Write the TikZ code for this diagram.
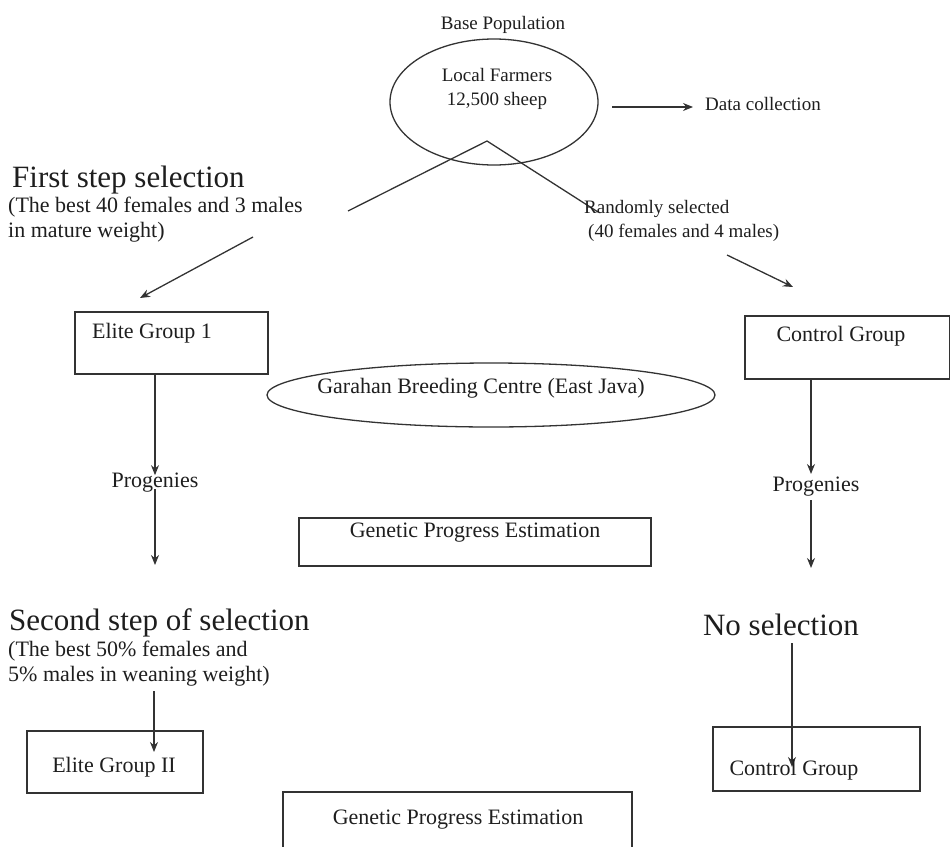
\documentclass[tikz,border=0pt]{standalone}
\usepackage{fontspec}
\setmainfont{Liberation Serif}
\usetikzlibrary{shapes.geometric,arrows.meta}
\definecolor{ink}{HTML}{333333}
\definecolor{txt}{HTML}{1E1E1E}
\tikzset{
  ln/.style={draw=ink, line width=1.3pt},
  arr/.style={ln, -{Stealth[length=10pt,width=8pt]}},
  boxn/.style={draw=ink, line width=1.3pt, rectangle, inner sep=0pt},
  elln/.style={draw=ink, line width=1.3pt, ellipse, inner sep=0pt},
  sm/.style={text=txt, inner sep=0pt, font=\fontsize{19}{24}\selectfont},
  md/.style={text=txt, inner sep=0pt, font=\fontsize{22}{25}\selectfont},
  lg/.style={text=txt, inner sep=0pt, font=\fontsize{31}{34}\selectfont},
}
\begin{document}
\begin{tikzpicture}[x=1pt,y=-1pt]
\useasboundingbox (0,0) rectangle (950,846);
% top
\node[sm] (basepop) at (503,25) {Base Population};
\node[elln, minimum width=208pt, minimum height=126pt] (farm) at (494,102) {};
\node[sm, align=center] (farmtxt) at (497,89) {Local Farmers\\12,500 sheep};
\coordinate (dcstart) at (612,107);
\coordinate (dcend) at (693,107);
\node[sm, anchor=west] (dc) at (705,104) {Data collection};
\draw[arr] (dcstart) -- (dcend);
\coordinate (apex) at (487,141);
\coordinate (lend) at (348,211);
\coordinate (rend) at (598,212);
\draw[ln] (lend) -- (apex) -- (rend);
% first step
\node[lg, anchor=west] (fs) at (12,180) {First step selection};
\node[md, anchor=north west, align=left] (fsd) at (8,197) {(The best 40 females and 3 males\\in mature weight)};
\coordinate (a1s) at (253,237);
\coordinate (a1e) at (140,298);
\draw[arr] (a1s) -- (a1e);
\node[sm, anchor=north west, align=left] (rs) at (584,200) {Randomly selected\\\hspace*{4pt}(40 females and 4 males)};
\coordinate (a2s) at (727,255);
\coordinate (a2e) at (793,287);
\draw[arr] (a2s) -- (a2e);
% group boxes
\node[boxn, minimum width=193pt, minimum height=62pt] (eg1) at (171.5,343) {};
\node[md] (eg1t) at (152,333) {Elite Group 1};
\node[boxn, minimum width=205pt, minimum height=63pt] (cg1) at (847.5,347.5) {};
\node[md] (cg1t) at (841,336) {Control Group};
\node[elln, minimum width=448pt, minimum height=64pt] (gbc) at (491,395) {};
\node[md] (gbct) at (481,388) {Garahan Breeding Centre (East Java)};
% progenies left
\node[md] (progL) at (155,483) {Progenies};
\draw[arr] (eg1.south -| progL) -- ([yshift=-2pt]progL.north);
\coordinate (l2e) at (155,565);
\draw[arr] ([yshift=4pt]progL.south) -- (l2e);
% progenies right
\node[md] (progR) at (816,487) {Progenies};
\coordinate (r1e) at (811,474);
\draw[arr] (cg1.south -| r1e) -- (r1e);
\coordinate (r2s) at (811,500);
\coordinate (r2e) at (811,568);
\draw[arr] (r2s) -- (r2e);
% GPE 1
\node[boxn, minimum width=352pt, minimum height=48pt] (gpe1) at (475,542) {};
\node[md] (gpe1t) at (475,533) {Genetic Progress Estimation};
% second step
\node[lg, anchor=west] (ss) at (9,623) {Second step of selection};
\node[md, anchor=north west, align=left] (ssd) at (8,641) {(The best 50\% females and\\5\% males in weaning weight)};
\coordinate (l3s) at (154,691);
\coordinate (l3e) at (154,752);
\draw[arr] (l3s) -- (l3e);
\node[boxn, minimum width=176pt, minimum height=62pt] (eg2) at (115,762) {};
\node[md] (eg2t) at (114,767) {Elite Group II};
% no selection
\node[lg] (nosel) at (781,625) {No selection};
\coordinate (r3s) at (792,643);
\coordinate (r3e) at (792,767);
\draw[arr] (r3s) -- (r3e);
\node[boxn, minimum width=207pt, minimum height=64pt] (cg2) at (816.5,759) {};
\node[md] (cg2t) at (794,770) {Control Group};
% GPE 2
\node[boxn, minimum width=349pt, minimum height=70pt] (gpe2) at (457.5,827) {};
\node[md] (gpe2t) at (458,820) {Genetic Progress Estimation};
\end{tikzpicture}
\end{document}
